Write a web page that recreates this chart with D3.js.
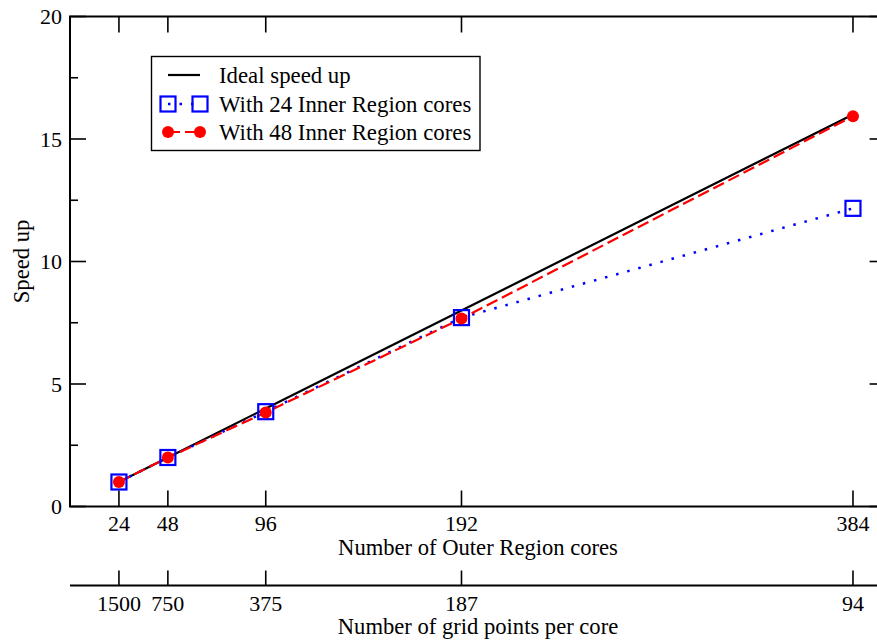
<!DOCTYPE html>
<html>
<head>
<meta charset="utf-8">
<script src="https://cdn.jsdelivr.net/npm/d3@7"></script>
<style>
  html, body { margin: 0; padding: 0; background: #fff; }
</style>
</head>
<body>
<svg id="chart" width="877" height="642"></svg>
<script>
// Outer Region core counts (primary x axis)
const cores = [24, 48, 96, 192, 384];
// Grid points per core for the same runs (secondary x axis)
const gridPoints = ["1500", "750", "375", "187", "94"];
// Speed up values
const ideal = [1, 2, 4, 8, 16];
const inner24 = [1, 2, 3.87, 7.71, 12.17];
const inner48 = [1, 2, 3.84, 7.67, 15.93];
const yTicks = [0, 5, 10, 15, 20];
const yMinor = [2.5, 7.5, 12.5, 17.5];
const legendLabels = ["Ideal speed up", "With 24 Inner Region cores", "With 48 Inner Region cores"];

const svg = d3.select("#chart");
const x = d3.scaleLinear().domain([0, 400]).range([70, 885.6]);
const y = d3.scaleLinear().domain([0, 20]).range([506.5, 16.5]);
const yAxisX = 70, secY = 585.5;
const serif = '"Liberation Serif"';

const g = svg.append("g");

// Serif text helper
function label(parent, txt, px, py, size, anchor) {
  return parent.append("text")
    .attr("x", px).attr("y", py)
    .attr("text-anchor", anchor || "start")
    .attr("font-size", size)
    .style("font-family", serif)
    .attr("fill", "#000")
    .text(txt);
}

// Frame
g.append("rect")
  .attr("x", x(0)).attr("y", y(20))
  .attr("width", x(400) - x(0)).attr("height", y(0) - y(20))
  .attr("fill", "none").attr("stroke", "#000").attr("stroke-width", 2);

// Inward ticks on all four sides
function drawTicks(vals, len, side) {
  vals.forEach(v => {
    const l = g.append("line").attr("stroke", "#000").attr("stroke-width", 1.6);
    if (side === "left") l.attr("x1", x(0)).attr("x2", x(0) + len).attr("y1", y(v)).attr("y2", y(v));
    if (side === "right") l.attr("x1", x(400)).attr("x2", x(400) - len).attr("y1", y(v)).attr("y2", y(v));
    if (side === "bottom") l.attr("x1", x(v)).attr("x2", x(v)).attr("y1", y(0)).attr("y2", y(0) - len);
    if (side === "top") l.attr("x1", x(v)).attr("x2", x(v)).attr("y1", y(20)).attr("y2", y(20) + len);
  });
}
drawTicks(yTicks, 16, "left");
drawTicks(yMinor, 8, "left");
drawTicks(yTicks, 16, "right");
drawTicks(yMinor, 8, "right");
drawTicks(cores, 16, "bottom");
drawTicks(cores, 16, "top");

// Y tick labels
yTicks.forEach(v => label(g, v, 62, y(v) + 7.5, 22, "end"));

// Primary x tick labels
cores.forEach(c => label(g, c, x(c), 531, 22, "middle"));
label(g, "Number of Outer Region cores", 478, 555, 22.6, "middle");

// Secondary x axis (grid points per core)
g.append("line").attr("x1", yAxisX).attr("x2", 877).attr("y1", secY).attr("y2", secY)
  .attr("stroke", "#000").attr("stroke-width", 2);
cores.forEach((c, i) => {
  g.append("line").attr("x1", x(c)).attr("x2", x(c)).attr("y1", secY).attr("y2", secY - 15)
    .attr("stroke", "#000").attr("stroke-width", 1.6);
  label(g, gridPoints[i], x(c), 611, 22, "middle");
});
label(g, "Number of grid points per core", 478, 634, 22.6, "middle");

// Y axis title
label(g, "Speed up", 0, 0, 22.6, "middle")
  .attr("transform", `translate(29,${y(10)}) rotate(-90)`);

// Series
const line = d3.line().x(d => x(d[0])).y(d => y(d[1]));
const zip = vals => cores.map((c, i) => [c, vals[i]]);

g.append("path").datum(zip(ideal)).attr("d", line)
  .attr("fill", "none").attr("stroke", "#000").attr("stroke-width", 2.2);

g.append("path").datum(zip(inner24)).attr("d", line)
  .attr("fill", "none").attr("stroke", "#0000ff").attr("stroke-width", 2.5)
  .attr("stroke-dasharray", "2.5,9");

g.append("path").datum(zip(inner48)).attr("d", line)
  .attr("fill", "none").attr("stroke", "#ff0000").attr("stroke-width", 2.2)
  .attr("stroke-dasharray", "12,5");

const sq = 15;
g.selectAll(".sq").data(zip(inner24)).join("rect")
  .attr("x", d => x(d[0]) - sq / 2).attr("y", d => y(d[1]) - sq / 2)
  .attr("width", sq).attr("height", sq)
  .attr("fill", "none").attr("stroke", "#0000ff").attr("stroke-width", 2.2);

g.selectAll(".dot").data(zip(inner48)).join("circle")
  .attr("cx", d => x(d[0])).attr("cy", d => y(d[1])).attr("r", 6)
  .attr("fill", "#ff0000");

// Legend
const lg = g.append("g");
lg.append("rect").attr("x", 151.5).attr("y", 56.5).attr("width", 328.5).attr("height", 94)
  .attr("fill", "#fff").attr("stroke", "#000").attr("stroke-width", 1.4);
const rowsY = [75, 104, 132];
const lx1 = 168, lx2 = 200;
lg.append("line").attr("x1", lx1).attr("x2", lx2).attr("y1", rowsY[0]).attr("y2", rowsY[0])
  .attr("stroke", "#000").attr("stroke-width", 2.2);
lg.append("line").attr("x1", lx1).attr("x2", lx2).attr("y1", rowsY[1]).attr("y2", rowsY[1])
  .attr("stroke", "#0000ff").attr("stroke-width", 2.5).attr("stroke-dasharray", "2.5,9");
[lx1, lx2].forEach(px => {
  lg.append("rect").attr("x", px - sq / 2).attr("y", rowsY[1] - sq / 2)
    .attr("width", sq).attr("height", sq)
    .attr("fill", "none").attr("stroke", "#0000ff").attr("stroke-width", 2.2);
});
lg.append("line").attr("x1", lx1).attr("x2", lx2).attr("y1", rowsY[2]).attr("y2", rowsY[2])
  .attr("stroke", "#ff0000").attr("stroke-width", 2.2).attr("stroke-dasharray", "12,5");
[lx1, lx2].forEach(px => {
  lg.append("circle").attr("cx", px).attr("cy", rowsY[2]).attr("r", 6).attr("fill", "#ff0000");
});
legendLabels.forEach((t, i) => label(lg, t, 219, rowsY[i] + 7.5, 22.8, "start"));
</script>
</body>
</html>
